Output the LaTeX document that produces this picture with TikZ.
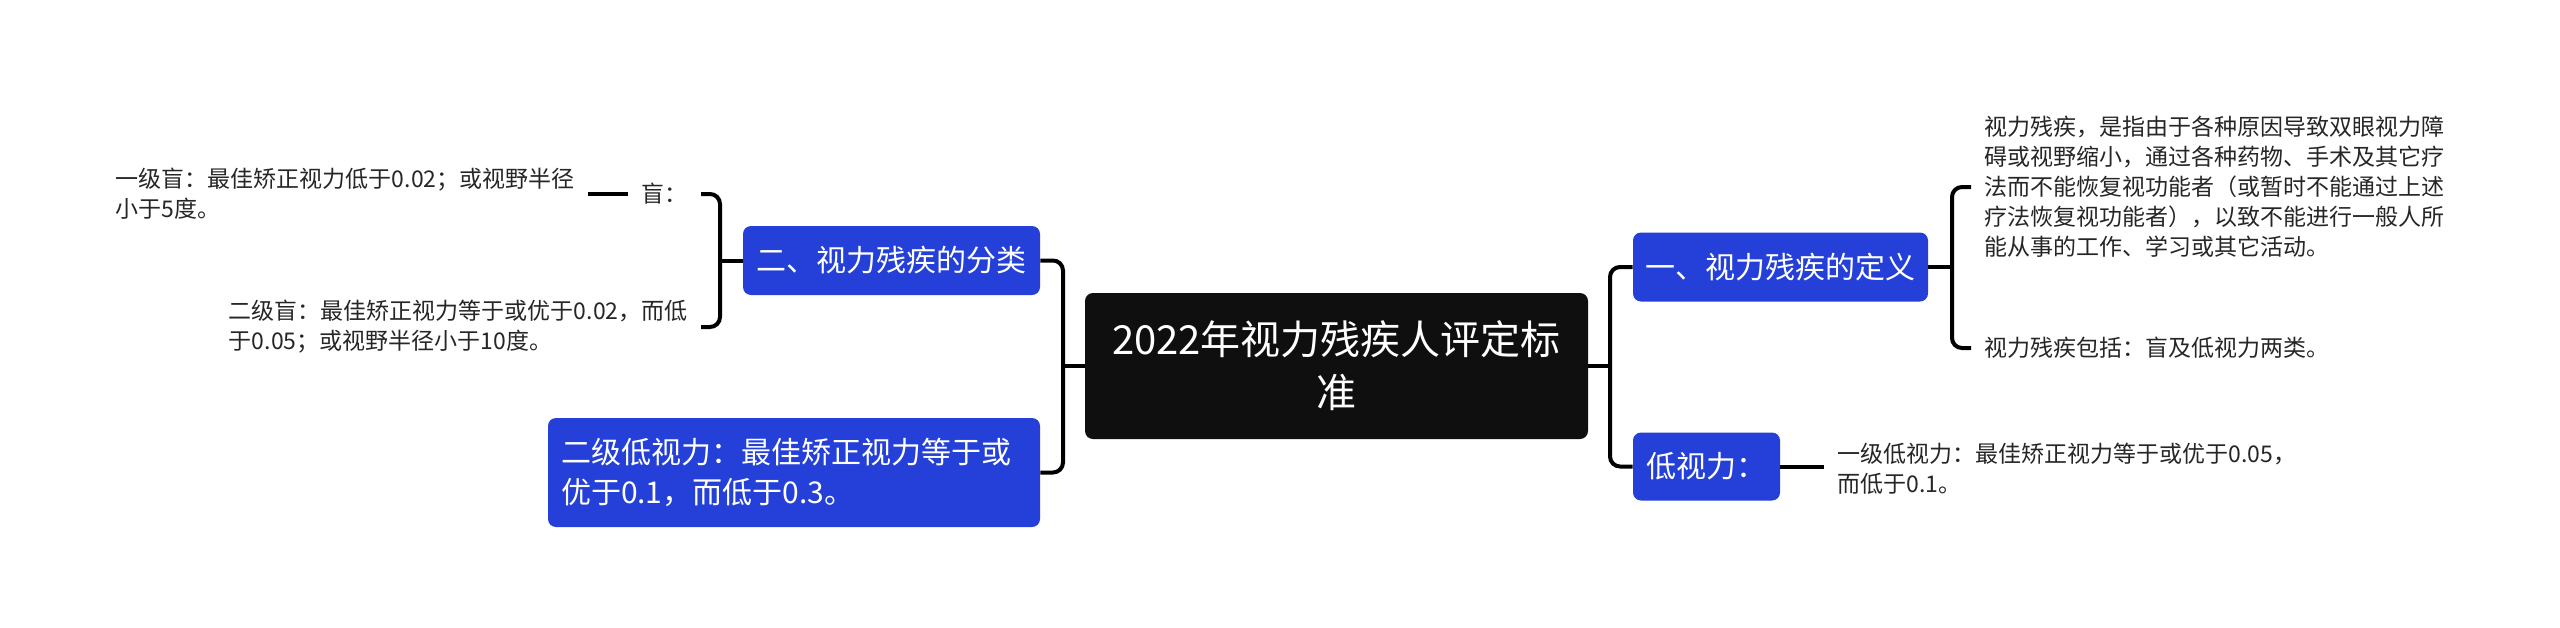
\documentclass[tikz,border=0pt]{standalone}
\usepackage{fontspec}
\setmainfont{Noto Sans CJK SC}
\definecolor{rootc}{HTML}{0F0F0F}
\definecolor{bluec}{HTML}{2440D8}
\definecolor{subc}{HTML}{262626}
\begin{document}
\begin{tikzpicture}[x=0.5pt,y=-0.5pt,
 conn/.style={draw=black, line width=2pt, rounded corners=5pt},
 rootbox/.style={fill=rootc, rounded corners=4pt, text=white, align=center, inner sep=0pt,
   minimum width=251.5pt, minimum height=73pt, font=\fontsize{20pt}{26.5pt}\selectfont},
 bluebox/.style={fill=bluec, rounded corners=4pt, text=white, inner sep=0pt,
   font=\fontsize{15pt}{20pt}\selectfont},
 subtext/.style={text=subc, font=\fontsize{11.5pt}{15pt}\selectfont, align=left,
   inner xsep=6.5pt, inner ysep=2pt}]

\useasboundingbox (0,0) rectangle (2560,627);

% root
\node[rootbox] (root) at (1336.5,366) {2022年视力残疾人评定标\\准};

% left branch
\node[bluebox, minimum width=148.5pt, minimum height=34.5pt] (b2) at (891.5,260.5) {二、视力残疾的分类};
\node[bluebox, minimum width=246pt, minimum height=54.5pt, text width=233pt, align=left] (b3) at (794,472.5)
  {二级低视力：最佳矫正视力等于或\\优于0.1，而低于0.3。};

\node[subtext, anchor=east] (mang) at (701,194) {盲：};
\node[subtext, anchor=east] (mang1) at (588,194) {一级盲：最佳矫正视力低于0.02；或视野半径\\小于5度。};
\node[subtext, anchor=east] (mang2) at (701,327) {二级盲：最佳矫正视力等于或优于0.02，而低\\于0.05；或视野半径小于10度。};

% right branch
\node[bluebox, minimum width=147.5pt, minimum height=34.5pt] (b1) at (1780.5,267) {一、视力残疾的定义};
\node[bluebox, minimum width=73.5pt, minimum height=34pt] (b4) at (1706.5,466.5) {低视力：};

\node[subtext, anchor=west] (def1) at (1971,187)
  {视力残疾，是指由于各种原因导致双眼视力障\\碍或视野缩小，通过各种药物、手术及其它疗\\法而不能恢复视功能者（或暂时不能通过上述\\疗法恢复视功能者），以致不能进行一般人所\\能从事的工作、学习或其它活动。};
\node[subtext, anchor=west] (def2) at (1971,348) {视力残疾包括：盲及低视力两类。};
\node[subtext, anchor=west] (low1) at (1824,468.5) {一级低视力：最佳矫正视力等于或优于0.05，\\而低于0.1。};

% junction coordinates
\coordinate (tl) at (1063,366);
\coordinate (tr) at (1610,366);
\coordinate (bl) at (720,260.5);
\coordinate (br) at (1952,267);

% connectors left
\draw[conn] (root.west) -- (tl);
\draw[conn] (b2.east) -- (b2.east -| tl) -- (b3.east -| tl) -- (b3.east);
\draw[conn] (b2.west) -- (bl);
\draw[conn] (mang.east) -- (mang.east -| bl) -- (mang2.east -| bl) -- (mang2.east);
\draw[conn] (mang.west) -- (mang1.east);

% connectors right
\draw[conn] (root.east) -- (tr);
\draw[conn] (b1.west) -- (b1.west -| tr) -- (b4.west -| tr) -- (b4.west);
\draw[conn] (b1.east) -- (br);
\draw[conn] (def1.west) -- (def1.west -| br) -- (def2.west -| br) -- (def2.west);
\draw[conn] (b4.east) -- (b4.east -| low1.west);
\end{tikzpicture}
\end{document}
